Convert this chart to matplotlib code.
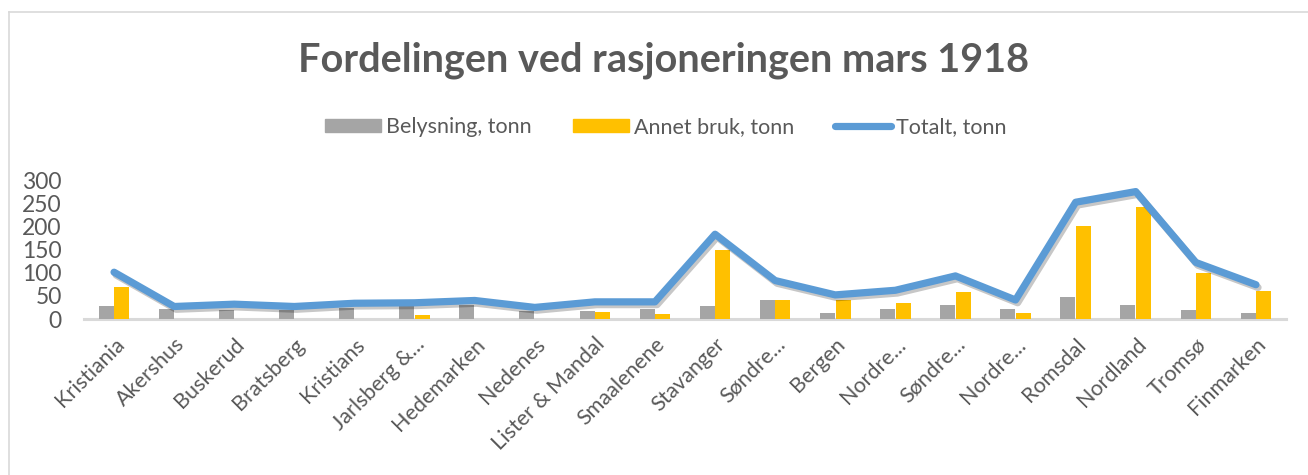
import matplotlib
matplotlib.use("Agg")
import matplotlib.pyplot as plt
import matplotlib.patheffects as pe
from matplotlib.lines import Line2D
import numpy as np

# ───────────────────────── Data ─────────────────────────
categories = ["Kristiania", "Akershus", "Buskerud", "Bratsberg", "Kristians",
              "Jarlsberg &...", "Hedemarken", "Nedenes", "Lister & Mandal", "Smaalenene",
              "Stavanger", "Søndre...", "Bergen", "Nordre...", "Søndre...",
              "Nordre...", "Romsdal", "Nordland", "Tromsø", "Finmarken"]
belysning = [29, 22, 20, 19, 24, 27, 30, 18, 18, 22, 29, 42, 12, 22, 31, 22, 48, 31, 20, 12]
annet = [70, 1, 1, 1, 1, 9, 1, 1, 16, 11, 149, 40, 40, 35, 59, 14, 201, 242, 100, 61]
totalt = [101, 27, 32, 27, 34, 35, 40, 25, 37, 37, 183, 83, 52, 62, 93, 41, 252, 275, 122, 74]
yticks = [0, 50, 100, 150, 200, 250, 300]

title = "Fordelingen ved rasjoneringen mars 1918"
labels = ["Belysning, tonn", "Annet bruk, tonn", "Totalt, tonn"]

# ───────────────────────── Style ─────────────────────────
plt.rcParams['font.family'] = ['Lato', 'DejaVu Sans']
text_color = "#595959"
gray = "#A5A5A5"
yellow = "#FFC000"
blue = "#5B9BD5"

fig = plt.figure(figsize=(13.08, 4.75), dpi=100)
ax = fig.add_axes([84 / 1308, 1 - 319 / 475, (1286 - 84) / 1308, (319 - 180) / 475])

x = np.arange(len(categories))
bw = 0.25
ax.bar(x - 0.13, belysning, width=bw, color=gray, zorder=2)
ax.bar(x + 0.13, annet, width=bw, color=yellow, zorder=2)
ax.plot(x, totalt, color=blue, lw=5.2, solid_capstyle="round", solid_joinstyle="round", zorder=3,
        path_effects=[pe.SimpleLineShadow(offset=(1.5, -2), alpha=0.22, shadow_color="black"), pe.Normal()],
        clip_on=False)

ax.set_xlim(-0.5, len(categories) - 0.5)
ax.set_ylim(0, 300)
ax.set_yticks(yticks)
ax.set_yticklabels([str(v) for v in yticks], fontsize=16.5, color=text_color)
ax.set_xticks(x)
ax.set_xticklabels(categories, rotation=45, ha="right", rotation_mode="anchor",
                   fontsize=15.5, color=text_color)
ax.tick_params(axis="both", length=0)
ax.tick_params(axis="y", pad=16)
ax.tick_params(axis="x", pad=11)
for s in ["top", "right", "left"]:
    ax.spines[s].set_visible(False)
ax.spines["bottom"].set_color("#D9D9D9")
ax.spines["bottom"].set_linewidth(2.2)
ax.spines["bottom"].set_zorder(1)

# chart border (left + top visible)
fig.add_artist(Line2D([9 / 1308, 9 / 1308], [0, 1 - 12 / 475], color="#D9D9D9", lw=1.2))
fig.add_artist(Line2D([9 / 1308, 1], [1 - 12 / 475, 1 - 12 / 475], color="#D9D9D9", lw=1.2))

fig.text(0.507, 1 - 60 / 475, title, ha="center", va="center", fontsize=28.5,
         fontweight="bold", color=text_color)

# legend
handles = [plt.Rectangle((0, 0), 1, 1, color=gray),
           plt.Rectangle((0, 0), 1, 1, color=yellow),
           Line2D([0], [0], color=blue, lw=5.2, solid_capstyle="round")]
fig.legend(handles, labels, loc="center", bbox_to_anchor=(0.509, 1 - 127 / 475), ncol=3,
           frameon=False, fontsize=15.5, labelcolor=text_color, handlelength=2.6,
           handleheight=0.6, handletextpad=0.25, columnspacing=1.9)

fig.savefig("out.png", dpi=100, facecolor="white")
